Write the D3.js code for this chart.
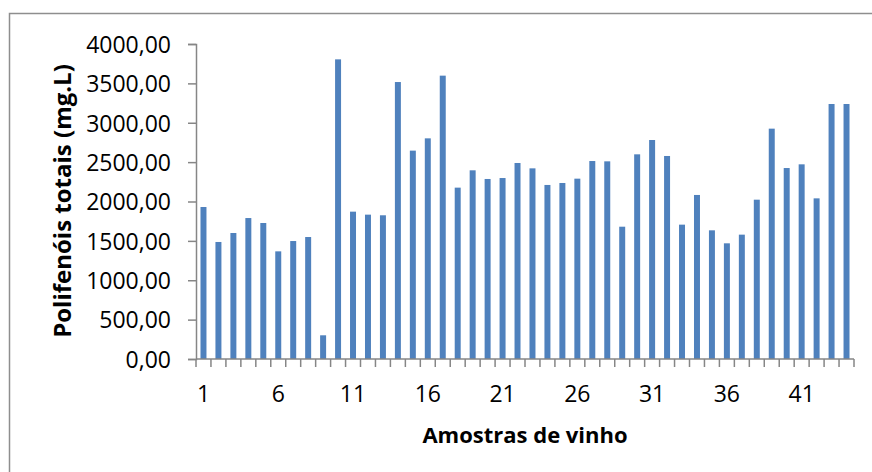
<!DOCTYPE html>
<html>
<head>
<meta charset="utf-8">
<script src="https://cdn.jsdelivr.net/npm/d3@7"></script>
<style>
  body { margin: 0; background: #fff; }
  text { font-family: "Open Sans", "Noto Sans", sans-serif; fill: #000; }
</style>
</head>
<body>
<div id="chart"></div>
<script>
// amostras 1..44
var samples = d3.range(1, 45);
var polifenois = [1930, 1486, 1600, 1790, 1727, 1367, 1498, 1549, 301, 3805,
                  1871, 1833, 1825, 3517, 2646, 2802, 3598, 2176, 2396, 2286,
                  2298, 2489, 2421, 2210, 2235, 2290, 2514, 2510, 1680, 2599,
                  2781, 2578, 1706, 2083, 1634, 1469, 1579, 2023, 2925, 2425,
                  2472, 2040, 3238, 3238];
var yTicks = [0, 500, 1000, 1500, 2000, 2500, 3000, 3500, 4000];
var xTickLabels = [1, 6, 11, 16, 21, 26, 31, 36, 41];

var svgWidth = 872;
var svgHeight = 472;
var margin = {top: 44, right: 18, bottom: 113, left: 196};
var width = svgWidth - margin.left - margin.right;
var height = svgHeight - margin.top - margin.bottom;

var svg = d3.select('#chart')
  .append('svg')
  .attr('width', svgWidth)
  .attr('height', svgHeight);

// chart frame
svg.append('rect')
  .attr('x', 9.5)
  .attr('y', 13.5)
  .attr('width', 900)
  .attr('height', 500)
  .attr('fill', 'none')
  .attr('stroke', '#8e8e8e')
  .attr('stroke-width', 1.5);

var main = svg.append('g')
  .attr('transform', 'translate(' + margin.left + ',' + margin.top + ')');

var xScale = d3.scaleBand()
  .domain(samples)
  .range([0, width])
  .paddingInner(0.6)
  .paddingOuter(0.3);

var yScale = d3.scaleLinear()
  .domain([0, 4000])
  .range([height, 0]);

var fmt = function(d) { return d3.format('.2f')(d).replace('.', ','); };

// bars
main.append('g')
  .selectAll('rect')
  .data(polifenois)
  .enter()
  .append('rect')
  .attr('x', function(d, i) { return xScale(samples[i]); })
  .attr('y', function(d) { return yScale(d); })
  .attr('width', xScale.bandwidth())
  .attr('height', function(d) { return height - yScale(d); })
  .attr('fill', '#4f81bd');

// y axis
var yAxis = d3.axisLeft(yScale)
  .tickValues(yTicks)
  .tickFormat(fmt)
  .tickSize(8)
  .tickPadding(17);

var gy = main.append('g').attr('class', 'axis y').call(yAxis);
gy.select('.domain').attr('stroke', '#868686').attr('stroke-width', 1.5);
gy.selectAll('.tick line').attr('stroke', '#868686').attr('stroke-width', 1.5);
gy.selectAll('.tick text').style('font-size', '23px').attr('dy', '0.36em');

// x axis: ticks on category boundaries
var xBound = d3.scaleLinear().domain([0, samples.length]).range([0, width]);
var gx = main.append('g')
  .attr('transform', 'translate(0,' + height + ')');
gx.append('line')
  .attr('x1', 0).attr('x2', width)
  .attr('stroke', '#868686').attr('stroke-width', 1.5);
gx.selectAll('line.tk')
  .data(d3.range(0, samples.length + 1))
  .enter()
  .append('line')
  .attr('class', 'tk')
  .attr('x1', function(d) { return xBound(d); })
  .attr('x2', function(d) { return xBound(d); })
  .attr('y1', 0).attr('y2', 8)
  .attr('stroke', '#868686').attr('stroke-width', 1.5);
gx.selectAll('text')
  .data(xTickLabels)
  .enter()
  .append('text')
  .attr('x', function(d) { return xScale(d) + xScale.bandwidth() / 2; })
  .attr('y', 43)
  .attr('text-anchor', 'middle')
  .style('font-size', '23px')
  .text(function(d) { return d; });

// axis titles
svg.append('text')
  .attr('x', 525)
  .attr('y', 443)
  .attr('text-anchor', 'middle')
  .style('font-size', '22px')
  .style('font-weight', 'bold')
  .text('Amostras de vinho');

svg.append('text')
  .attr('transform', 'translate(71,201) rotate(-90)')
  .attr('text-anchor', 'middle')
  .style('font-size', '24px')
  .style('font-weight', 'bold')
  .text('Polifenóis totais (mg.L)');
</script>
</body>
</html>
